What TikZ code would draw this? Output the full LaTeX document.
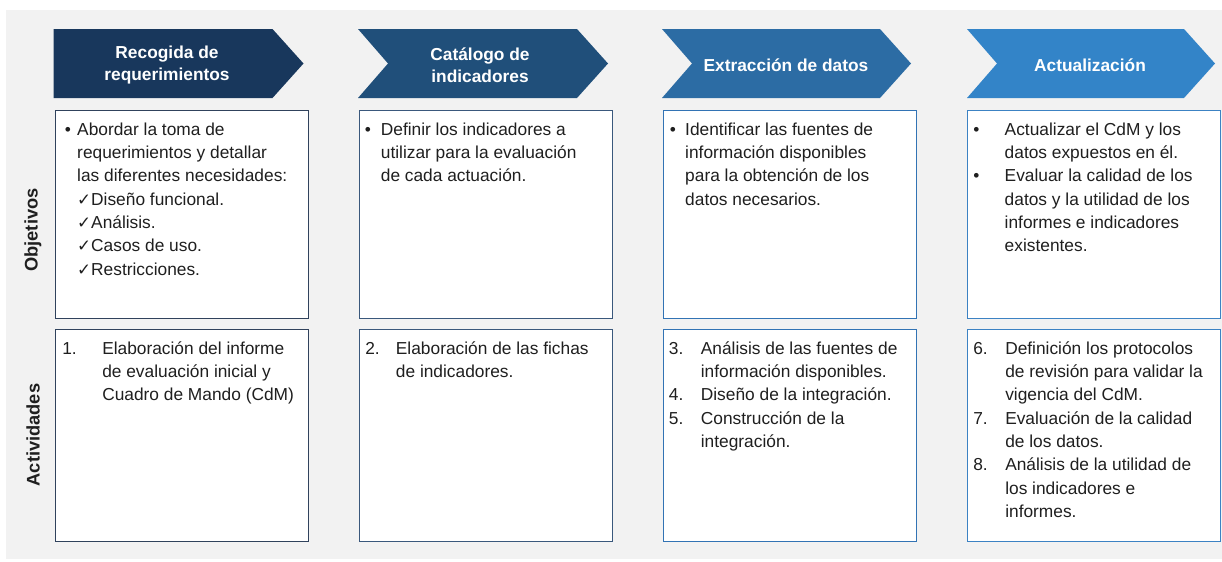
\documentclass[tikz,border=0pt]{standalone}
\usepackage{fontspec}
\setmainfont{Liberation Sans}
\newfontfamily\chkfont{DejaVu Sans}
\definecolor{panelgray}{RGB}{242,242,242}
\definecolor{hdA}{RGB}{24,55,92}
\definecolor{hdB}{RGB}{32,79,122}
\definecolor{hdC}{RGB}{44,108,164}
\definecolor{hdD}{RGB}{51,132,200}
\definecolor{brdA}{RGB}{48,66,92}
\definecolor{brdB}{RGB}{58,88,124}
\definecolor{brdC}{RGB}{50,115,180}
\definecolor{brdD}{RGB}{60,130,195}
\newcommand{\chk}{{\chkfont\fontsize{12.5}{13}\selectfont ✓}}

\begin{document}
\begin{tikzpicture}[x=0.75pt, y=-0.75pt,
  cellbox/.style={draw, fill=white, line width=0.9pt, anchor=north west, minimum width=189.75pt, inner sep=0pt},
  hdtxt/.style={text=white, align=center, font=\bfseries\fontsize{13}{16.5}\selectfont},
  bodytxt/.style={anchor=base west, inner sep=0pt, text=black!88, font=\fontsize{13}{17.5}\selectfont},
  sidelbl/.style={rotate=90, text=black!88, font=\bfseries\fontsize{13.7}{16}\selectfont}]
\useasboundingbox (0,0) rectangle (1222,561);
\fill[panelgray] (6,10) rectangle (1222,559);
% header chevrons
\fill[hdA] (53.5,29) -- (272.5,29) -- (303.5,63.5) -- (272.5,98) -- (53.5,98) -- cycle;
\fill[hdB] (358,29) -- (577,29) -- (608,63.5) -- (577,98) -- (358,98) -- (388,63.5) -- cycle;
\fill[hdC] (662,29) -- (880,29) -- (911,63.5) -- (880,98) -- (662,98) -- (692,63.5) -- cycle;
\fill[hdD] (967,29) -- (1184,29) -- (1215,63.5) -- (1184,98) -- (967,98) -- (997,63.5) -- cycle;
\node[hdtxt] (hd1) at (167,65.5) {Recogida de\\requerimientos};
\node[hdtxt] (hd2) at (480,65.5) {Catálogo de\\indicadores};
\node[hdtxt] (hd3) at (786,65) {Extracción de datos};
\node[hdtxt] (hd4) at (1090,65) {Actualización};
% row labels
\node[sidelbl] (lobj) at (33,230) {Objetivos};
\node[sidelbl] (lact) at (33,435) {Actividades};
% boxes: objetivos row
\node[cellbox, draw=brdA, minimum height=156pt] (ob1) at (55,110) {};
\node[cellbox, draw=brdB, minimum height=156pt] (ob2) at (359,110) {};
\node[cellbox, draw=brdC, minimum height=156pt] (ob3) at (663,110) {};
\node[cellbox, draw=brdD, minimum height=156pt] (ob4) at (967,110) {};
% boxes: actividades row
\node[cellbox, draw=brdA, minimum height=159pt] (ac1) at (55,329) {};
\node[cellbox, draw=brdB, minimum height=159pt] (ac2) at (359,329) {};
\node[cellbox, draw=brdC, minimum height=159pt] (ac3) at (663,329) {};
\node[cellbox, draw=brdD, minimum height=159pt] (ac4) at (967,329) {};
% objetivos texts
\node[bodytxt] (ot1) at (64.7,135) {\begin{tabular}[t]{@{}p{9.2pt}@{}l@{}}
 • & Abordar la toma de\\
   & requerimientos y detallar\\
   & las diferentes necesidades:\\
   & \chk Diseño funcional.\\
   & \chk Análisis.\\
   & \chk Casos de uso.\\
   & \chk Restricciones.
 \end{tabular}};
\node[bodytxt] (ot2) at (364.6,135) {\begin{tabular}[t]{@{}p{12pt}@{}l@{}}
 • & Definir los indicadores a\\
   & utilizar para la evaluación\\
   & de cada actuación.
 \end{tabular}};
\node[bodytxt] (ot3) at (669.5,135) {\begin{tabular}[t]{@{}p{11.6pt}@{}l@{}}
 • & Identificar las fuentes de\\
   & información disponibles\\
   & para la obtención de los\\
   & datos necesarios.
 \end{tabular}};
\node[bodytxt] (ot4) at (973,135) {\begin{tabular}[t]{@{}p{23.6pt}@{}l@{}}
 • & Actualizar el CdM y los\\
   & datos expuestos en él.\\
 • & Evaluar la calidad de los\\
   & datos y la utilidad de los\\
   & informes e indicadores\\
   & existentes.
 \end{tabular}};
% actividades texts
\node[bodytxt] (at1) at (62,354) {\begin{tabular}[t]{@{}p{30pt}@{}l@{}}
 1. & Elaboración del informe\\
    & de evaluación inicial y\\
    & Cuadro de Mando (CdM)
 \end{tabular}};
\node[bodytxt] (at2) at (365,354) {\begin{tabular}[t]{@{}p{23pt}@{}l@{}}
 2. & Elaboración de las fichas\\
    & de indicadores.
 \end{tabular}};
\node[bodytxt] (at3) at (668.6,354) {\begin{tabular}[t]{@{}p{24pt}@{}l@{}}
 3. & Análisis de las fuentes de\\
    & información disponibles.\\
 4. & Diseño de la integración.\\
 5. & Construcción de la\\
    & integración.
 \end{tabular}};
\node[bodytxt] (at4) at (973,354) {\begin{tabular}[t]{@{}p{24pt}@{}l@{}}
 6. & Definición los protocolos\\
    & de revisión para validar la\\
    & vigencia del CdM.\\
 7. & Evaluación de la calidad\\
    & de los datos.\\
 8. & Análisis de la utilidad de\\
    & los indicadores e\\
    & informes.
 \end{tabular}};
\end{tikzpicture}
\end{document}
